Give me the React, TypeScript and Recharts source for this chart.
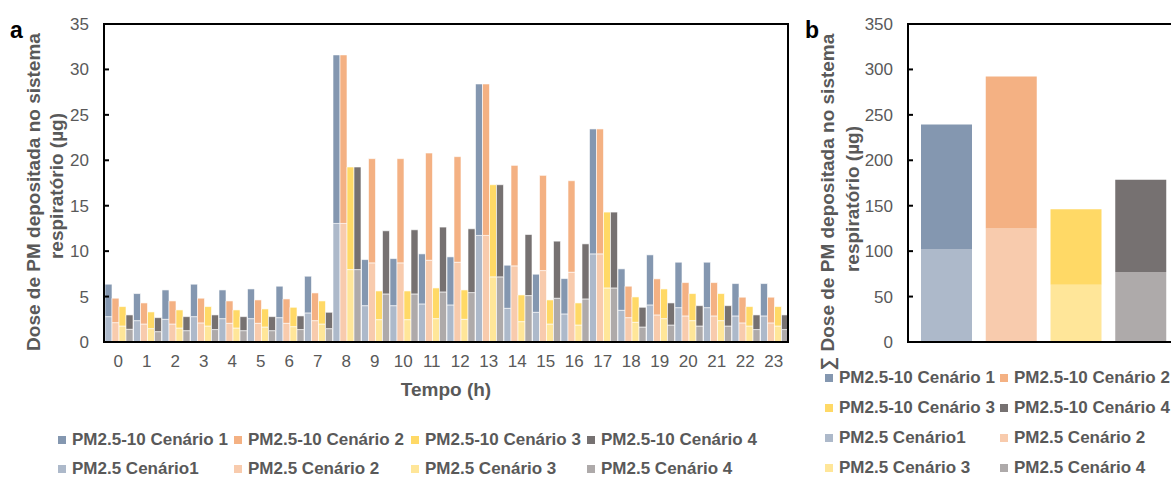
import React from 'react';
import { BarChart, Bar, XAxis, YAxis, Legend, Cell } from 'recharts';

const FONT = '"Liberation Sans", Arial, sans-serif';
const TEXT = '#595959';

// ---------- Data: panel a (hourly) ----------
const hours = ['0','1','2','3','4','5','6','7','8','9','10','11','12','13','14','15','16','17','18','19','20','21','22','23'];

const pm25Cen1 = [2.79,2.35,2.5,2.79,2.57,2.57,2.68,3.2,13.05,4.0,4.0,4.19,4.08,11.73,3.71,3.27,3.09,9.7,3.49,4.08,3.78,3.78,2.87,2.87];
const pm2510Cen1 = [3.57,2.98,3.23,3.57,3.16,3.27,3.46,4.04,18.55,5.07,5.18,5.51,5.29,16.67,4.74,4.19,3.89,13.75,4.56,5.51,5.0,5.0,3.56,3.56];

const pm25Cen2 = [2.13,1.98,1.98,2.1,2.06,2.06,2.06,2.35,13.05,8.71,8.71,9.0,8.78,11.73,8.38,7.86,7.68,9.7,2.68,2.98,2.87,2.87,2.1,2.1];
const pm2510Cen2 = [2.69,2.32,2.54,2.72,2.46,2.57,2.68,3.05,18.55,11.47,11.47,11.8,11.62,16.67,11.06,10.48,10.07,13.75,3.46,3.97,3.67,3.67,2.83,2.83];

const pm25Cen3 = [1.76,1.47,1.54,1.76,1.54,1.65,1.69,1.98,7.97,2.46,2.46,2.57,2.5,7.17,2.24,1.98,1.87,5.95,2.17,2.57,2.35,2.35,1.76,1.76];
const pm2510Cen3 = [2.14,1.84,1.99,2.14,1.99,1.99,2.13,2.54,11.29,3.16,3.16,3.38,3.23,10.14,2.94,2.65,2.43,8.35,2.79,3.27,2.98,2.98,2.14,2.14];

const pm25Cen4 = [1.4,1.14,1.25,1.37,1.25,1.25,1.37,1.47,7.97,5.29,5.29,5.51,5.44,7.17,5.11,4.82,4.74,5.95,1.65,1.87,1.76,1.76,1.37,1.37];
const pm2510Cen4 = [1.58,1.54,1.54,1.61,1.54,1.54,1.5,1.8,11.29,6.95,7.06,7.14,7.02,10.14,6.72,6.28,6.06,8.35,2.17,2.43,2.24,2.24,1.61,1.61];

const leftTicks = [0,5,10,15,20,25,30,35];

// ---------- Data: panel b (sum) ----------
const scenarios = ['Cenário 1','Cenário 2','Cenário 3','Cenário 4'];
const sumPm25 = [102.3,125,63,77];
const sumPm2510 = [137.2,167.3,83,101.6];
const rightTicks = [0,50,100,150,200,250,300,350];

// ---------- Labels & colours ----------
const coarseLabels = ['PM2.5-10 Cenário 1','PM2.5-10 Cenário 2','PM2.5-10 Cenário 3','PM2.5-10 Cenário 4'];
const fineLabels = ['PM2.5 Cenário1','PM2.5 Cenário 2','PM2.5 Cenário 3','PM2.5 Cenário 4'];
const coarseColors = ['#8497B0','#F4B183','#FFD966','#767171'];
const fineColors = ['#ADB9CA','#F8CBAD','#FFE699','#AEAAAA'];

const yTitle1 = 'Dose de PM depositada no sistema';
const yTitle2 = 'respiratório (µg)';
const xTitle = 'Tempo (h)';

const hourlyData = hours.map((h, i) => ({
  hour: h,
  f1: pm25Cen1[i], c1: pm2510Cen1[i],
  f2: pm25Cen2[i], c2: pm2510Cen2[i],
  f3: pm25Cen3[i], c3: pm2510Cen3[i],
  f4: pm25Cen4[i], c4: pm2510Cen4[i],
}));

const sumData = scenarios.map((s, i) => ({ name: s, fine: sumPm25[i], coarse: sumPm2510[i] }));

// layout
const LEFT_W = 790, LEFT_YW = 104, LEFT_MR = 2;
const RIGHT_W = 391, RIGHT_YW = 118, RIGHT_MR = 2;

const tickStyle = { fill: TEXT, fontSize: 17, fontFamily: FONT };

const LegendItem = ({ x, y, color, label }: { x: number; y: number; color: string; label: string }) => (
  <div style={{ position: 'absolute', left: x, top: y, height: 20, display: 'flex', alignItems: 'center', whiteSpace: 'nowrap' }}>
    <div style={{ width: 8, height: 8, background: color, marginRight: 6 }} />
    <span style={{ fontFamily: FONT, fontSize: 17, fontWeight: 'bold', color: TEXT, lineHeight: '20px' }}>{label}</span>
  </div>
);

const leftLegendX = [58, 234, 411, 587];
const LeftLegend = () => (
  <div style={{ position: 'relative', width: LEFT_W, height: 50 }}>
    {coarseLabels.map((l, i) => <LegendItem key={'c' + i} x={leftLegendX[i]} y={0} color={coarseColors[i]} label={l} />)}
    {fineLabels.map((l, i) => <LegendItem key={'f' + i} x={leftLegendX[i]} y={29} color={fineColors[i]} label={l} />)}
  </div>
);

const rightLegendX = [35, 210];
const RightLegend = () => {
  const items = [
    [coarseLabels[0], coarseColors[0], coarseLabels[1], coarseColors[1]],
    [coarseLabels[2], coarseColors[2], coarseLabels[3], coarseColors[3]],
    [fineLabels[0], fineColors[0], fineLabels[1], fineColors[1]],
    [fineLabels[2], fineColors[2], fineLabels[3], fineColors[3]],
  ];
  return (
    <div style={{ position: 'relative', width: RIGHT_W, height: 110 }}>
      {items.map((r, ri) => (
        <React.Fragment key={ri}>
          <LegendItem x={rightLegendX[0]} y={ri * 30} color={r[1]} label={r[0]} />
          <LegendItem x={rightLegendX[1]} y={ri * 30} color={r[3]} label={r[2]} />
        </React.Fragment>
      ))}
    </div>
  );
};

const rotText = (x: number, y: number, s: string, key: string) => (
  <text key={key} x={x} y={y} transform={`rotate(-90, ${x}, ${y})`} textAnchor="middle" dominantBaseline="central"
    fontFamily={FONT} fontSize={19} fontWeight="bold" fill={TEXT}>{s}</text>
);

const LeftYTitle = (props: any) => {
  const vb = props.viewBox || { x: 0, y: 24, width: LEFT_YW, height: 318 };
  const cy = vb.y + vb.height / 2;
  return (
    <g>
      <rect x={vb.x + vb.width} y={vb.y} width={LEFT_W - LEFT_YW - LEFT_MR} height={vb.height} fill="none" stroke="#000" strokeWidth={2} />
      <text x={10} y={38} fontFamily={FONT} fontSize={23} fontWeight="bold" fill="#000">a</text>
      {rotText(vb.x + 33, cy + 9, yTitle1, 'l1')}
      {rotText(vb.x + 56, cy + 3, yTitle2, 'l2')}
    </g>
  );
};

const RightYTitle = (props: any) => {
  const vb = props.viewBox || { x: 0, y: 24, width: RIGHT_YW, height: 318 };
  const cy = vb.y + vb.height / 2;
  return (
    <g>
      <rect x={vb.x + vb.width} y={vb.y} width={RIGHT_W - RIGHT_YW - RIGHT_MR} height={vb.height} fill="none" stroke="#000" strokeWidth={2} />
      <text x={vb.x + 15} y={38} fontFamily={FONT} fontSize={23} fontWeight="bold" fill="#000">b</text>
      {rotText(vb.x + 37, cy + 19, '∑ ' + yTitle1, 'r1')}
      {rotText(vb.x + 62, cy + 16, yTitle2, 'r2')}
    </g>
  );
};

const XTitle = (props: any) => {
  const vb = props.viewBox || { x: LEFT_YW, y: 342, width: 684, height: 60 };
  return (
    <text x={vb.x + vb.width / 2} y={vb.y + 47} textAnchor="middle" dominantBaseline="central"
      fontFamily={FONT} fontSize={19} fontWeight="bold" fill={TEXT}>{xTitle}</text>
  );
};

const barCommon = { isAnimationActive: false, stroke: '#fff', strokeWidth: 0.6 } as const;

export default function App() {
  return (
    <div style={{ position: 'absolute', left: 0, top: 0, width: 1171, height: 477, overflow: 'hidden', background: '#fff' }}>
      <div style={{ position: 'absolute', left: 0, top: 0 }}>
        <BarChart width={LEFT_W} height={477} data={hourlyData} margin={{ top: 24, right: LEFT_MR, bottom: 75, left: 0 }}
          barCategoryGap={1} barGap={0}>
          <XAxis dataKey="hour" interval={0} tickLine={false} tickSize={0} tickMargin={13} axisLine={true}
            stroke="#000" strokeWidth={2} tick={tickStyle} height={60} label={XTitle} />
          <YAxis type="number" domain={[0, 35]} ticks={leftTicks} width={LEFT_YW} tickSize={-5} tickMargin={20}
            stroke="#000" strokeWidth={2} tickLine={true} axisLine={true} tick={tickStyle} label={LeftYTitle} />
          <Bar dataKey="f1" stackId="s1" fill={fineColors[0]} name={fineLabels[0]} {...barCommon} />
          <Bar dataKey="c1" stackId="s1" fill={coarseColors[0]} name={coarseLabels[0]} {...barCommon} />
          <Bar dataKey="f2" stackId="s2" fill={fineColors[1]} name={fineLabels[1]} {...barCommon} />
          <Bar dataKey="c2" stackId="s2" fill={coarseColors[1]} name={coarseLabels[1]} {...barCommon} />
          <Bar dataKey="f3" stackId="s3" fill={fineColors[2]} name={fineLabels[2]} {...barCommon} />
          <Bar dataKey="c3" stackId="s3" fill={coarseColors[2]} name={coarseLabels[2]} {...barCommon} />
          <Bar dataKey="f4" stackId="s4" fill={fineColors[3]} name={fineLabels[3]} {...barCommon} />
          <Bar dataKey="c4" stackId="s4" fill={coarseColors[3]} name={coarseLabels[3]} {...barCommon} />
          <Legend layout="horizontal" verticalAlign="middle" align="center" content={() => <LeftLegend />}
            wrapperStyle={{ left: 0, top: 430, width: LEFT_W, height: 50 }} />
        </BarChart>
      </div>
      <div style={{ position: 'absolute', left: 790, top: 0 }}>
        <BarChart width={RIGHT_W} height={477} data={sumData} margin={{ top: 24, right: RIGHT_MR, bottom: 130, left: 0 }}>
          <XAxis dataKey="name" tick={false} tickLine={false} axisLine={true} stroke="#000" strokeWidth={2} height={5} padding={{ left: 6, right: 6 }} />
          <YAxis type="number" domain={[0, 350]} ticks={rightTicks} width={RIGHT_YW} tickSize={-5} tickMargin={20}
            stroke="#000" strokeWidth={2} tickLine={true} axisLine={true} tick={tickStyle} label={RightYTitle} />
          <Bar dataKey="fine" stackId="t" barSize={51} isAnimationActive={false}>
            {sumData.map((d, i) => <Cell key={'f' + i} fill={fineColors[i]} />)}
          </Bar>
          <Bar dataKey="coarse" stackId="t" barSize={51} isAnimationActive={false}>
            {sumData.map((d, i) => <Cell key={'c' + i} fill={coarseColors[i]} />)}
          </Bar>
          <Legend layout="horizontal" verticalAlign="middle" align="center" content={() => <RightLegend />}
            wrapperStyle={{ left: 0, top: 368, width: RIGHT_W, height: 110 }} />
        </BarChart>
      </div>
    </div>
  );
}
